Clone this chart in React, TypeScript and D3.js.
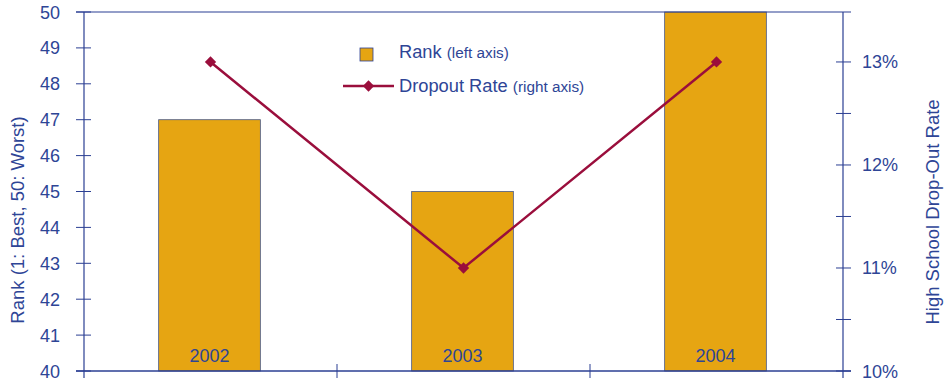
import { useEffect, useRef } from 'react'
import * as d3 from 'd3'

const years = ['2002', '2003', '2004']
const rank = [47, 45, 50]
const dropout = [13, 11, 13]
const rankTicks = [40, 41, 42, 43, 44, 45, 46, 47, 48, 49, 50]
const rateTicks = [10, 11, 12, 13]
const rateMinorTicks = [10.5, 11.5, 12.5]

const W = 944
const H = 386
const AXIS = '#2B3F93'
const TEXT = '#2E4596'
const BAR = '#E6A512'
const LINE = '#9A0E3C'
const FONT = '"Liberation Sans", Arial, Helvetica, sans-serif'

export default function App() {
  const svgRef = useRef<SVGSVGElement>(null)

  useEffect(() => {
    document.body.style.margin = '0'
    if (!svgRef.current) return
    const svg = d3.select(svgRef.current)
    svg.selectAll('*').remove()

    const margin = { top: 12, right: 101, bottom: 15, left: 84 }
    const w = W - margin.left - margin.right
    const h = H - margin.top - margin.bottom
    const g = svg.append('g').attr('transform', `translate(${margin.left},${margin.top})`)

    const x = d3.scaleBand().domain(years).range([0, w]).paddingInner(0).paddingOuter(0)
    const yL = d3.scaleLinear().domain([40, 50]).range([h, 0])
    const yR = d3.scaleLinear().domain([10, 13.485]).range([h, 0])
    const barW = x.bandwidth() * 0.402

    // bars
    g.selectAll('rect.bar')
      .data(years)
      .join('rect')
      .attr('class', 'bar')
      .attr('x', d => x(d)! + (x.bandwidth() - barW) / 2 - 1)
      .attr('y', (_, i) => yL(rank[i]))
      .attr('width', barW)
      .attr('height', (_, i) => h - yL(rank[i]))
      .attr('fill', BAR)
      .attr('stroke', '#4a5a86')
      .attr('stroke-width', 0.8)

    g.selectAll('text.yr')
      .data(years)
      .join('text')
      .attr('class', 'yr')
      .attr('x', d => x(d)! + x.bandwidth() / 2 - 1)
      .attr('y', h - 9)
      .attr('text-anchor', 'middle')
      .attr('fill', TEXT)
      .attr('font-family', FONT)
      .attr('font-size', 18)
      .text(d => d)

    // frame lines
    g.append('line').attr('x1', -8).attr('x2', w + 8).attr('y1', 0).attr('y2', 0)
      .attr('stroke', AXIS).attr('stroke-width', 1.2)
    g.append('line').attr('x1', -8).attr('x2', w + 8).attr('y1', h).attr('y2', h)
      .attr('stroke', AXIS).attr('stroke-width', 1.6)
    g.append('line').attr('x1', 0).attr('x2', 0).attr('y1', 0).attr('y2', h + 7)
      .attr('stroke', AXIS).attr('stroke-width', 1.2)
    g.append('line').attr('x1', w).attr('x2', w).attr('y1', 0).attr('y2', h + 7)
      .attr('stroke', AXIS).attr('stroke-width', 1.2)

    // x category ticks
    g.selectAll('line.xt')
      .data(years.slice(1))
      .join('line')
      .attr('class', 'xt')
      .attr('x1', d => x(d)!).attr('x2', d => x(d)!)
      .attr('y1', h - 7).attr('y2', h + 7)
      .attr('stroke', AXIS).attr('stroke-width', 1)

    // left ticks
    g.selectAll('line.lt')
      .data(rankTicks)
      .join('line')
      .attr('class', 'lt')
      .attr('x1', -8).attr('x2', 7)
      .attr('y1', d => yL(d)).attr('y2', d => yL(d))
      .attr('stroke', AXIS).attr('stroke-width', 1)
    g.selectAll('text.ll')
      .data(rankTicks)
      .join('text')
      .attr('class', 'll')
      .attr('x', -24)
      .attr('y', d => yL(d) + 6.5)
      .attr('text-anchor', 'end')
      .attr('fill', TEXT)
      .attr('font-family', FONT)
      .attr('font-size', 18)
      .text(d => d)

    // right ticks
    g.selectAll('line.rt')
      .data([...rateTicks, ...rateMinorTicks])
      .join('line')
      .attr('class', 'rt')
      .attr('x1', w - 7).attr('x2', w + 8)
      .attr('y1', d => yR(d)).attr('y2', d => yR(d))
      .attr('stroke', AXIS).attr('stroke-width', 1)
    g.selectAll('text.rl')
      .data(rateTicks)
      .join('text')
      .attr('class', 'rl')
      .attr('x', w + 19)
      .attr('y', d => yR(d) + 6.5)
      .attr('text-anchor', 'start')
      .attr('fill', TEXT)
      .attr('font-family', FONT)
      .attr('font-size', 18)
      .text(d => `${d}%`)

    // axis titles
    svg.append('text')
      .attr('transform', 'translate(23.5,220) rotate(-90)')
      .attr('text-anchor', 'middle')
      .attr('fill', TEXT).attr('font-family', FONT).attr('font-size', 18.5)
      .text('Rank (1: Best, 50: Worst)')
    svg.append('text')
      .attr('transform', 'translate(938.5,212) rotate(-90)')
      .attr('text-anchor', 'middle')
      .attr('fill', TEXT).attr('font-family', FONT).attr('font-size', 18.5)
      .text('High School Drop-Out Rate')

    // dropout line
    const pts = years.map((d, i) => [x(d)! + x.bandwidth() / 2, yR(dropout[i])] as [number, number])
    g.append('path')
      .datum(pts)
      .attr('fill', 'none')
      .attr('stroke', LINE)
      .attr('stroke-width', 2.5)
      .attr('d', d3.line())
    const marker = d3.symbol().type(d3.symbolSquare).size(64)()
    g.selectAll('path.mk')
      .data(pts)
      .join('path')
      .attr('class', 'mk')
      .attr('transform', d => `translate(${d[0]},${d[1]}) rotate(45)`)
      .attr('d', marker)
      .attr('fill', LINE)

    // legend
    const lg = svg.append('g')
    lg.append('rect').attr('x', 360).attr('y', 48).attr('width', 13).attr('height', 13)
      .attr('fill', BAR).attr('stroke', AXIS).attr('stroke-width', 0.8)
    const t1 = lg.append('text').attr('x', 399).attr('y', 58)
      .attr('fill', TEXT).attr('font-family', FONT).attr('font-size', 18.3)
    t1.append('tspan').text('Rank ')
    t1.append('tspan').attr('font-size', 15.3).text('(left axis)')
    lg.append('line').attr('x1', 343).attr('x2', 394).attr('y1', 86).attr('y2', 86)
      .attr('stroke', LINE).attr('stroke-width', 2.5)
    lg.append('path')
      .attr('transform', 'translate(368.5,86) rotate(45)')
      .attr('d', marker)
      .attr('fill', LINE)
    const t2 = lg.append('text').attr('x', 399).attr('y', 91.5)
      .attr('fill', TEXT).attr('font-family', FONT).attr('font-size', 18.3)
    t2.append('tspan').text('Dropout Rate ')
    t2.append('tspan').attr('font-size', 15.3).text('(right axis)')
  }, [])

  return (
    <svg ref={svgRef} width={W} height={H} style={{ display: 'block', background: '#fff' }} />
  )
}
